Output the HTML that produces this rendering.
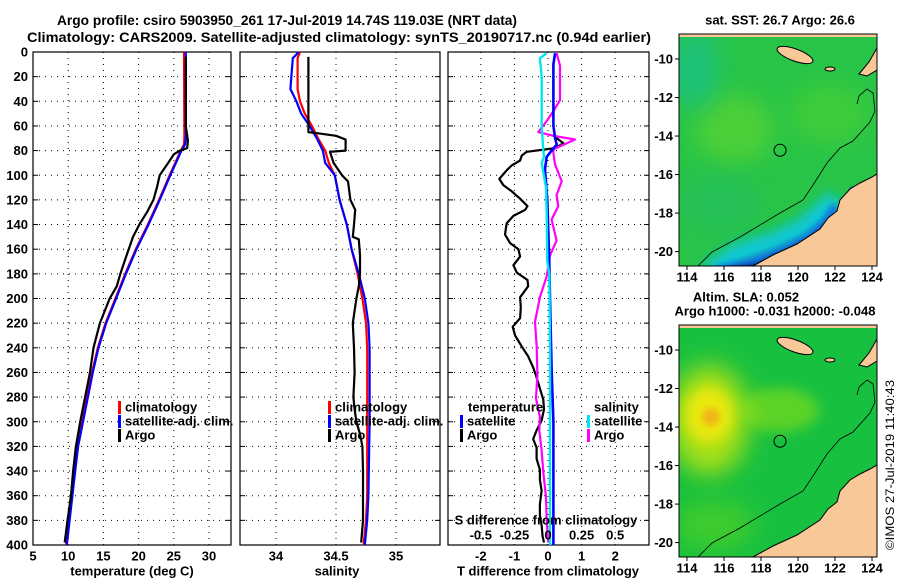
<!DOCTYPE html>
<html><head><meta charset="utf-8">
<style>
html,body{margin:0;padding:0;background:#fff;}
svg{display:block;font-family:"Liberation Sans",Arial,sans-serif;font-weight:bold;}
</style></head>
<body>
<svg id="fig" width="900" height="580" viewBox="0 0 900 580" xmlns="http://www.w3.org/2000/svg">
<defs>
  <filter id="blur6" x="-20%" y="-20%" width="140%" height="140%"><feGaussianBlur stdDeviation="6"/></filter>
  <filter id="blur3" x="-20%" y="-20%" width="140%" height="140%"><feGaussianBlur stdDeviation="3"/></filter>
  <filter id="blur2" x="-20%" y="-20%" width="140%" height="140%"><feGaussianBlur stdDeviation="1.5"/></filter>
  <filter id="blur12" x="-50%" y="-50%" width="200%" height="200%"><feGaussianBlur stdDeviation="12"/></filter>
  <clipPath id="clipMap1"><rect x="679" y="34" width="198" height="232"/></clipPath>
  <clipPath id="clipMap2"><rect x="679" y="325" width="198" height="232"/></clipPath>
</defs>
<text x="57" y="25" font-size="14" textLength="460" lengthAdjust="spacingAndGlyphs">Argo profile: csiro 5903950_261 17-Jul-2019 14.74S 119.03E (NRT data)</text>
<text x="27" y="42" font-size="14" textLength="624" lengthAdjust="spacingAndGlyphs">Climatology: CARS2009. Satellite-adjusted climatology: synTS_20190717.nc (0.94d earlier)</text>
<g id="panels"></g>
<g id="maps"></g>
<text transform="translate(894,550) rotate(-90)" font-size="12" font-weight="normal" textLength="170" lengthAdjust="spacingAndGlyphs">©IMOS 27-Jul-2019 11:40:43</text>
</svg>
<script>
// ---------- data ----------
const depthTicks = [0,20,40,60,80,100,120,140,160,180,200,220,240,260,280,300,320,340,360,380,400];
const tempTicks = [5,10,15,20,25,30];
const salTicks = [34,34.5,35];
const tdiffTicks = [-2,-1,0,1,2];
const sdiffTicks = [-0.5,-0.25,0,0.25,0.5];
const sdiffTickLabels = ["-0.5","-0.25","0","0.25","0.5"];

const climTDepth = [0,70,75,80,90,100,120,140,160,180,200,220,240,260,280,300,320,340,360,380,400];
const climT = [26.45,26.5,26.45,26.0,25.2,24.4,22.9,21.3,19.6,18.1,16.7,15.3,14.2,13.4,12.6,11.9,11.2,10.8,10.4,10.0,9.7];
const satT = [26.7,26.7,26.6,26.1,25.3,24.5,23.0,21.4,19.7,18.2,16.8,15.4,14.3,13.5,12.8,12.1,11.4,11.0,10.6,10.2,9.8];
const argoTDepth = [4,60,68,72,78,80,83,90,100,110,120,130,140,150,160,170,180,190,200,220,240,260,280,300,320,340,360,380,398];
const argoT = [26.7,26.7,26.9,27.0,26.9,25.9,25.0,24.2,23.0,22.6,22.1,21.2,20.1,19.2,18.6,18.0,17.4,16.9,15.9,14.5,13.6,13.1,12.4,11.7,11.1,10.7,10.4,9.9,9.5];

const climSDepth = [0,5,30,40,50,60,70,80,90,100,120,140,160,180,200,220,240,300,360,380,400];
const climS = [34.20,34.18,34.18,34.20,34.24,34.30,34.35,34.41,34.44,34.49,34.53,34.59,34.63,34.68,34.72,34.75,34.76,34.76,34.76,34.75,34.73];
const satS = [34.19,34.14,34.12,34.17,34.21,34.28,34.34,34.39,34.41,34.49,34.53,34.59,34.63,34.69,34.74,34.77,34.78,34.78,34.77,34.76,34.74];
const argoSDepth = [4,65,66,68,71,80,81,90,100,105,120,128,140,150,152,165,180,190,200,220,240,260,280,290,300,310,320,340,360,380,398];
const argoS = [34.27,34.27,34.35,34.50,34.58,34.58,34.45,34.48,34.55,34.60,34.62,34.66,34.65,34.64,34.69,34.70,34.70,34.69,34.67,34.64,34.65,34.655,34.645,34.655,34.67,34.70,34.72,34.725,34.725,34.725,34.71];

const argoTdDepth = [68,74,78,81,84,88,92,96,103,108,113,119,125,128,133,139,148,155,160,166,173,179,185,190,199,207,216,223,230,239,247,256,264,273,282,290,299,307,314,321,330,339,347,356,367,376,384,393,398];
const argoTd = [0.16,0.46,0.21,-0.63,-0.78,-0.83,-1.08,-1.23,-1.45,-1.33,-1.08,-0.83,-0.61,-0.68,-1.03,-1.23,-1.28,-1.13,-0.88,-0.83,-1.03,-0.93,-0.61,-0.59,-0.83,-0.81,-0.83,-1.05,-0.98,-0.78,-0.59,-0.44,-0.34,-0.24,-0.14,-0.12,-0.19,-0.34,-0.44,-0.34,-0.34,-0.24,-0.24,-0.19,-0.24,-0.24,-0.19,-0.16,-0.12];
const satTdDepth = [1,10,60,70,75,80,85,95,120,170,200,260,300,400];
const satTd = [0.21,0.16,0.16,0.21,0.26,0.11,-0.04,-0.09,-0.02,0.04,0.06,0.11,0.16,0.16];
const satSdDepth = [1,5,20,60,80,85,90,110,130,170,180,240,300,400];
const satSd = [-0.010,-0.06,-0.047,-0.047,-0.035,-0.030,-0.047,-0.015,-0.010,-0.005,0.010,0.015,0.015,0.015];
const argoSdDepth = [1,11,39,48,56,65,68,71,79,82,91,105,116,125,136,153,165,182,199,219,239,262,281,296,307,324,341,361,381,398];
const argoSd = [0.064,0.089,0.089,0.040,-0.010,-0.072,0.040,0.201,0.040,0.040,0.052,0.102,0.064,0.077,0.027,0.064,0.015,-0.010,-0.06,-0.097,-0.084,-0.079,-0.089,-0.06,-0.065,-0.047,-0.035,-0.015,-0.010,0.002];

const latTicks = [-10,-12,-14,-16,-18,-20];
const lonTicks = [114,116,118,120,122,124];
const argoLon = 119.03;
const argoLat = -14.74;

// ---------- scales ----------
const TOP = 52, BOT = 545;
const yD = d => TOP + d * (BOT - TOP) / 400;
const P1 = {x0:33, x1:231}, P2 = {x0:240, x1:440}, P3 = {x0:448, x1:649};
const xT = v => 33 + (v - 5) * 7.04;
const xS = v => 276 + (v - 34) * 120;
const xTd = v => 548 + v * 33.6;
const xSd = v => 548 + v * 134.4;

const NS = "http://www.w3.org/2000/svg";
function mk(tag, attrs, parent) {
  const e = document.createElementNS(NS, tag);
  for (const k in attrs) e.setAttribute(k, attrs[k]);
  parent.appendChild(e);
  return e;
}
function txt(parent, x, y, s, size, anchor) {
  const t = mk("text", {x:x, y:y, "font-size":size, "text-anchor":anchor || "start", "dominant-baseline":"central"}, parent);
  t.textContent = s;
  return t;
}
const panels = document.getElementById("panels");

function frame(P, name, xticks, xfun, xlabels) {
  const g = mk("g", {}, panels);
  
  
  depthTicks.forEach(d => {
    if (d > 0 && d < 400) {
      const l = mk("line", {x1:P.x0, x2:P.x1, y1:yD(d), y2:yD(d), stroke:"#000", "stroke-width":1, "stroke-dasharray":"1,5"}, g);
      
      
    }
    mk("line", {x1:P.x0, x2:P.x0+5, y1:yD(d), y2:yD(d), stroke:"#000"}, g);
    mk("line", {x1:P.x1-5, x2:P.x1, y1:yD(d), y2:yD(d), stroke:"#000"}, g);
  });
  xticks.forEach((v, i) => {
    const x = xfun(v);
    const l = mk("line", {x1:x, x2:x, y1:TOP, y2:BOT, stroke:"#000", "stroke-width":1, "stroke-dasharray":"1,5"}, g);
    
    
    const t = txt(g, x, 556, xlabels ? xlabels[i] : String(v), 13, "middle");
    
    
  });
  const r = mk("rect", {x:P.x0, y:TOP, width:P.x1-P.x0, height:BOT-TOP, fill:"none", stroke:"#000", "stroke-width":1.2}, g);
  
  
  return g;
}
function series(g, depths, vals, xf, color, name, w) {
  const pts = depths.map((d, i) => xf(vals[i]).toFixed(1) + "," + yD(d).toFixed(1)).join(" ");
  const p = mk("polyline", {points:pts, fill:"none", stroke:color, "stroke-width":w || 2.2, "stroke-linejoin":"round"}, g);
  
  
}
function legendEntry(g, x, y, color, label, name) {
  const e = mk("g", {}, g);
  
  
  mk("rect", {x:x, y:y-6, width:3, height:13, fill:color}, e);
  txt(e, x+7, y, label, 13, "start");
}

// panel 1: temperature
const g1 = frame(P1, "temperature-panel", tempTicks, xT);
depthTicks.forEach(d => {
  const t = txt(g1, 28, yD(d), String(d), 13, "end");
  
  
});
series(g1, climTDepth, climT, xT, "#ff0000", "climatology-temperature-line");
series(g1, climTDepth, satT, xT, "#0000ff", "satellite-temperature-line");
series(g1, argoTDepth, argoT, xT, "#000000", "argo-temperature-line");
legendEntry(g1, 118, 407, "#ff0000", "climatology", "legend-climatology");
legendEntry(g1, 118, 421, "#0000ff", "satellite-adj. clim.", "legend-satellite-adj");
legendEntry(g1, 118, 435, "#000000", "Argo", "legend-argo");
let xl = txt(g1, 132, 571, "temperature (deg C)", 13, "middle");



// panel 2: salinity
const g2 = frame(P2, "salinity-panel", salTicks, xS);
series(g2, climSDepth, climS, xS, "#ff0000", "climatology-salinity-line");
series(g2, climSDepth, satS, xS, "#0000ff", "satellite-salinity-line");
series(g2, argoSDepth, argoS, xS, "#000000", "argo-salinity-line");
legendEntry(g2, 328, 407, "#ff0000", "climatology", "legend-climatology");
legendEntry(g2, 328, 421, "#0000ff", "satellite-adj. clim.", "legend-satellite-adj");
legendEntry(g2, 328, 435, "#000000", "Argo", "legend-argo");
xl = txt(g2, 337, 571, "salinity", 13, "middle");



// panel 3: differences
const g3 = frame(P3, "difference-panel", tdiffTicks, xTd);
series(g3, argoTdDepth, argoTd, xTd, "#000000", "argo-temperature-difference-line");
series(g3, argoSdDepth, argoSd, xSd, "#ff00ff", "argo-salinity-difference-line");
series(g3, satTdDepth, satTd, xTd, "#0000ff", "satellite-temperature-difference-line", 2.6);
series(g3, satSdDepth, satSd, xSd, "#00e5ee", "satellite-salinity-difference-line", 2.4);
let lt = txt(g3, 468, 407, "temperature", 13, "start");


lt = txt(g3, 594, 407, "salinity", 13, "start");


legendEntry(g3, 460, 421, "#0000ff", "satellite", "legend-temperature-satellite");
legendEntry(g3, 460, 435, "#000000", "Argo", "legend-temperature-argo");
legendEntry(g3, 587, 421, "#00e5ee", "satellite", "legend-salinity-satellite");
legendEntry(g3, 587, 435, "#ff00ff", "Argo", "legend-salinity-argo");
lt = txt(g3, 546, 520, "S difference from climatology", 13, "middle");


sdiffTicks.forEach((v, i) => {
  const t = txt(g3, xSd(v), 535, sdiffTickLabels[i], 13, "middle");
  
  
});
xl = txt(g3, 548, 571, "T difference from climatology", 13, "middle");



// ---------- maps ----------
const maps = document.getElementById("maps");
const landPts = [[74,232],[94,221],[118,210],[141,195],[149,184],[158,177],[161,166],[171,155],[181,149],[191,144],[198,140],[198,232]];
const contourPts = [[19,232],[33,218],[61,203],[101,179],[124,166],[134,151],[148,129],[161,114],[174,107],[191,88],[196,77],[194,59],[188,55],[180,62],[178,70]];
function drawMap(top, type, name) {
  const MX = 679, W = 198, H = 232;
  const g = mk("g", {"clip-path": type === "sst" ? "url(#clipMap1)" : "url(#clipMap2)"}, maps);
  
  
  const P = pts => pts.map(p => (MX + p[0]) + "," + (top + p[1])).join(" ");
  if (type === "sst") {
    mk("rect", {x:MX, y:top, width:W, height:H, fill:"#28c448"}, g);
    mk("ellipse", {cx:MX+55, cy:top+95, rx:40, ry:35, fill:"#5cd430", opacity:0.7, filter:"url(#blur12)"}, g);
    mk("ellipse", {cx:MX+150, cy:top+80, rx:40, ry:30, fill:"#50d230", opacity:0.6, filter:"url(#blur12)"}, g);
    mk("ellipse", {cx:MX+15, cy:top+35, rx:25, ry:40, fill:"#18c09a", opacity:0.6, filter:"url(#blur12)"}, g);
    mk("ellipse", {cx:MX+40, cy:top+170, rx:40, ry:30, fill:"#20bc60", opacity:0.6, filter:"url(#blur12)"}, g);
    mk("polyline", {points:P([[30,240],[60,220],[95,209],[125,195],[145,178],[158,165]]), fill:"none", stroke:"#10c8d8", "stroke-width":22, filter:"url(#blur6)"}, g);
    mk("polyline", {points:P([[35,238],[72,228],[102,217],[128,204],[146,189],[157,173]]), fill:"none", stroke:"#1070e0", "stroke-width":9, filter:"url(#blur3)"}, g);
    mk("polyline", {points:P([[45,236],[78,231],[104,220],[130,207],[147,193]]), fill:"none", stroke:"#001a90", "stroke-width":4, filter:"url(#blur2)"}, g);
    mk("ellipse", {cx:MX+175, cy:top+158, rx:6, ry:6, fill:"#1060d0"}, g);
  } else {
    mk("rect", {x:MX, y:top, width:W, height:H, fill:"#18c040"}, g);
    mk("ellipse", {cx:MX+100, cy:top+85, rx:40, ry:22, fill:"#6cd820", opacity:0.8, filter:"url(#blur6)"}, g);
    mk("ellipse", {cx:MX+30, cy:top+95, rx:40, ry:55, fill:"#a8e018", filter:"url(#blur12)"}, g);
    mk("ellipse", {cx:MX+30, cy:top+90, rx:24, ry:28, fill:"#e8e810", filter:"url(#blur6)"}, g);
    mk("ellipse", {cx:MX+32, cy:top+92, rx:9, ry:9, fill:"#f0b818", filter:"url(#blur3)"}, g);
    mk("ellipse", {cx:MX+35, cy:top+200, rx:40, ry:25, fill:"#50d028", opacity:0.7, filter:"url(#blur12)"}, g);
  }
  const land = mk("polygon", {points:P(landPts), fill:"#f8c898", stroke:"#000", "stroke-width":1}, g);
  
  
  mk("ellipse", {cx:MX+116, cy:top+21, rx:19, ry:6, transform:`rotate(20 ${MX+116} ${top+21})`, fill:"#f8c898", stroke:"#000"}, g);
  mk("polygon", {points:P([[180,40],[190,28],[198,14],[198,36],[188,42]]), fill:"#f8c898", stroke:"#000"}, g);
  mk("ellipse", {cx:MX+151, cy:top+35, rx:5, ry:2, fill:"#f8c898", stroke:"#000"}, g);
  mk("rect", {x:MX, y:top, width:W, height:3, fill:"#f8c898"}, g);
  const ct = mk("polyline", {points:P(contourPts), fill:"none", stroke:"#000", "stroke-width":0.8}, g);
  
  
  const lonX = lon => 687 + (lon - 114) * 18.5;
  const latY = lat => top + 25 + (-10 - lat) * 19.26;
  const c = mk("circle", {cx:lonX(argoLon), cy:latY(argoLat), r:6, fill:"none", stroke:"#000", "stroke-width":1}, maps);
  
  
  const fr = mk("rect", {x:MX, y:top, width:W, height:H, fill:"none", stroke:"#000", "stroke-width":1}, maps);
  
  
  latTicks.forEach(v => {
    mk("line", {x1:MX-4, x2:MX, y1:latY(v), y2:latY(v), stroke:"#000"}, maps);
    const t = txt(maps, 673, latY(v), String(v), 13, "end");
    
    
  });
  lonTicks.forEach(v => {
    mk("line", {x1:lonX(v), x2:lonX(v), y1:top+H, y2:top+H+4, stroke:"#000"}, maps);
    const t = txt(maps, lonX(v), top+H+11, String(v), 13, "middle");
    
    
  });
}
drawMap(34, "sst", "sst-map");
drawMap(325, "sla", "sla-map");
let mt = txt(maps, 780, 20, "sat. SST: 26.7 Argo: 26.6", 13, "middle");


mt = txt(maps, 746, 297, "Altim. SLA: 0.052", 13, "middle");


mt = txt(maps, 775, 311, "Argo h1000: -0.031 h2000: -0.048", 13, "middle");


</script>
</body></html>
